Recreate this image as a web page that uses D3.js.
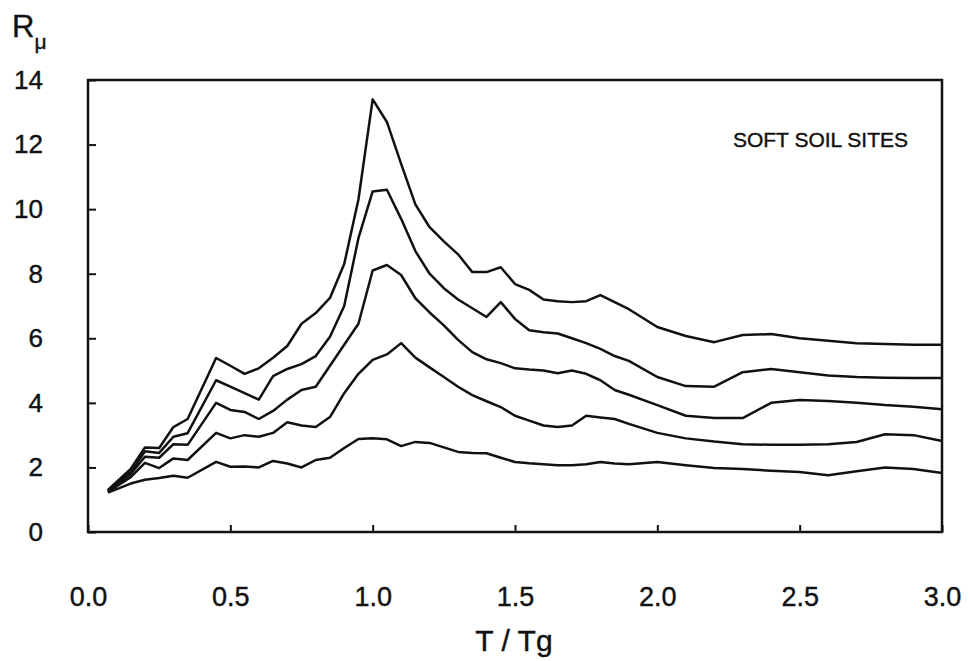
<!DOCTYPE html>
<html>
<head>
<meta charset="utf-8">
<title>R mu vs T/Tg, soft soil sites</title>
<style>
  body {margin: 0; background: #fff;}
  svg {display: block; font-family: Arial, "Liberation Sans", Helvetica, sans-serif;}
  svg text {fill: #111; stroke: #111; stroke-width: 0.4;}
  .curve {fill: none; stroke: #111; stroke-width: 2.5; stroke-linejoin: round;}
  .axis .domain {display: none;}
  .axis line {stroke: #111; stroke-width: 2;}
</style>
</head>
<body>
<svg></svg>
<script src="https://d3js.org/d3.v7.min.js"></script>
<script>
// period ratio T/Tg
const periods = [0.07, 0.15, 0.2, 0.25, 0.3, 0.35, 0.45, 0.5, 0.55, 0.6, 0.65, 0.7, 0.75, 0.8, 0.85, 0.9, 0.95,
  1.0, 1.05, 1.1, 1.15, 1.2, 1.25, 1.3, 1.35, 1.4, 1.45, 1.5, 1.55, 1.6, 1.65, 1.7, 1.75, 1.8, 1.85, 1.9,
  2.0, 2.1, 2.2, 2.3, 2.4, 2.5, 2.6, 2.7, 2.8, 2.9, 3.0];

// strength reduction factor, one array per curve (top to bottom)
const curve1 = [1.3, 1.95, 2.62, 2.6, 3.25, 3.5, 5.39, 5.15, 4.9, 5.07, 5.4, 5.76, 6.45, 6.78, 7.25, 8.3, 10.3,
  13.4, 12.7, 11.4, 10.15, 9.44, 9.0, 8.6, 8.05, 8.05, 8.2, 7.68, 7.5, 7.2, 7.15, 7.12, 7.15, 7.34, 7.12, 6.9,
  6.35, 6.07, 5.88, 6.1, 6.13, 6.0, 5.92, 5.85, 5.82, 5.8, 5.8];
const curve2 = [1.28, 1.85, 2.5, 2.45, 2.95, 3.06, 4.7, 4.5, 4.3, 4.1, 4.83, 5.05, 5.2, 5.45, 6.05, 7.0, 9.1,
  10.55, 10.6, 9.7, 8.7, 8.0, 7.55, 7.2, 6.93, 6.66, 7.12, 6.6, 6.25, 6.19, 6.15, 6.0, 5.85, 5.67, 5.45, 5.3,
  4.8, 4.52, 4.5, 4.95, 5.05, 4.95, 4.85, 4.8, 4.78, 4.77, 4.77];
const curve3 = [1.26, 1.8, 2.33, 2.3, 2.72, 2.7, 4.0, 3.78, 3.72, 3.5, 3.75, 4.1, 4.4, 4.5, 5.15, 5.8, 6.45,
  8.1, 8.27, 7.96, 7.24, 6.8, 6.4, 5.95, 5.57, 5.35, 5.23, 5.07, 5.03, 5.0, 4.92, 5.0, 4.9, 4.7, 4.4, 4.25,
  3.93, 3.6, 3.53, 3.53, 4.0, 4.09, 4.06, 4.0, 3.93, 3.88, 3.8];
const curve4 = [1.24, 1.7, 2.14, 1.98, 2.28, 2.23, 3.07, 2.9, 3.0, 2.95, 3.07, 3.4, 3.3, 3.25, 3.56, 4.3, 4.9,
  5.33, 5.5, 5.85, 5.4, 5.1, 4.8, 4.5, 4.24, 4.05, 3.87, 3.6, 3.45, 3.3, 3.25, 3.3, 3.6, 3.55, 3.5, 3.35,
  3.07, 2.9, 2.8, 2.72, 2.7, 2.7, 2.72, 2.79, 3.03, 3.0, 2.82];
const curve5 = [1.22, 1.5, 1.62, 1.67, 1.74, 1.68, 2.17, 2.02, 2.03, 2.0, 2.2, 2.12, 2.0, 2.23, 2.3, 2.6, 2.88,
  2.9, 2.87, 2.66, 2.79, 2.76, 2.62, 2.48, 2.45, 2.44, 2.3, 2.17, 2.13, 2.1, 2.07, 2.07, 2.1, 2.17, 2.12, 2.1,
  2.17, 2.07, 1.98, 1.95, 1.9, 1.86, 1.76, 1.88, 2.0, 1.95, 1.83];

const xTicks = [0, 0.5, 1.0, 1.5, 2.0, 2.5, 3.0];
const yTicks = [0, 2, 4, 6, 8, 10, 12, 14];

const width = 970, height = 661;
const plotLeft = 88, plotRight = 942, plotTop = 80, plotBottom = 532;

const svg = d3.select("svg").attr("width", width).attr("height", height);

const x = d3.scaleLinear().domain([0, 3]).range([plotLeft, plotRight]);
const y = d3.scaleLinear().domain([0, 14]).range([plotBottom, plotTop]);

// y axis, ticks pointing inwards
svg.append("g")
  .attr("class", "axis")
  .attr("transform", "translate(" + plotLeft + ",0)")
  .call(d3.axisLeft(y).tickValues(yTicks).tickSizeInner(-8).tickSizeOuter(0).tickPadding(45).tickFormat(d3.format("d")))
  .selectAll("text").style("font-size", "26px");

// x axis
svg.append("g")
  .attr("class", "axis")
  .attr("transform", "translate(0," + plotBottom + ")")
  .call(d3.axisBottom(x).tickValues(xTicks).tickSizeInner(-7).tickSizeOuter(0).tickPadding(55).tickFormat(d3.format(".1f")))
  .selectAll("text").style("font-size", "27px");

// frame
svg.append("rect")
  .attr("x", plotLeft).attr("y", plotTop)
  .attr("width", plotRight - plotLeft).attr("height", plotBottom - plotTop)
  .attr("fill", "none").attr("stroke", "#111").attr("stroke-width", 2.5);

const line = d3.line().x((d, i) => x(periods[i])).y(d => y(d));

svg.append("g")
  .selectAll("path")
  .data([curve1, curve2, curve3, curve4, curve5])
  .join("path")
  .attr("class", "curve")
  .attr("d", line);

svg.append("text")
  .attr("x", 908).attr("y", 147)
  .attr("text-anchor", "end")
  .style("font-size", "21px")
  .text("SOFT SOIL SITES");

// axis titles
const rl = svg.append("text").attr("x", 12).attr("y", 37).style("font-size", "31px");
rl.append("tspan").text("R");
rl.append("tspan").attr("dy", 12).style("font-size", "21px").text("μ");

svg.append("text")
  .attr("x", 514).attr("y", 651)
  .attr("text-anchor", "middle")
  .style("font-size", "30px")
  .text("T / Tg");
</script>
</body>
</html>
